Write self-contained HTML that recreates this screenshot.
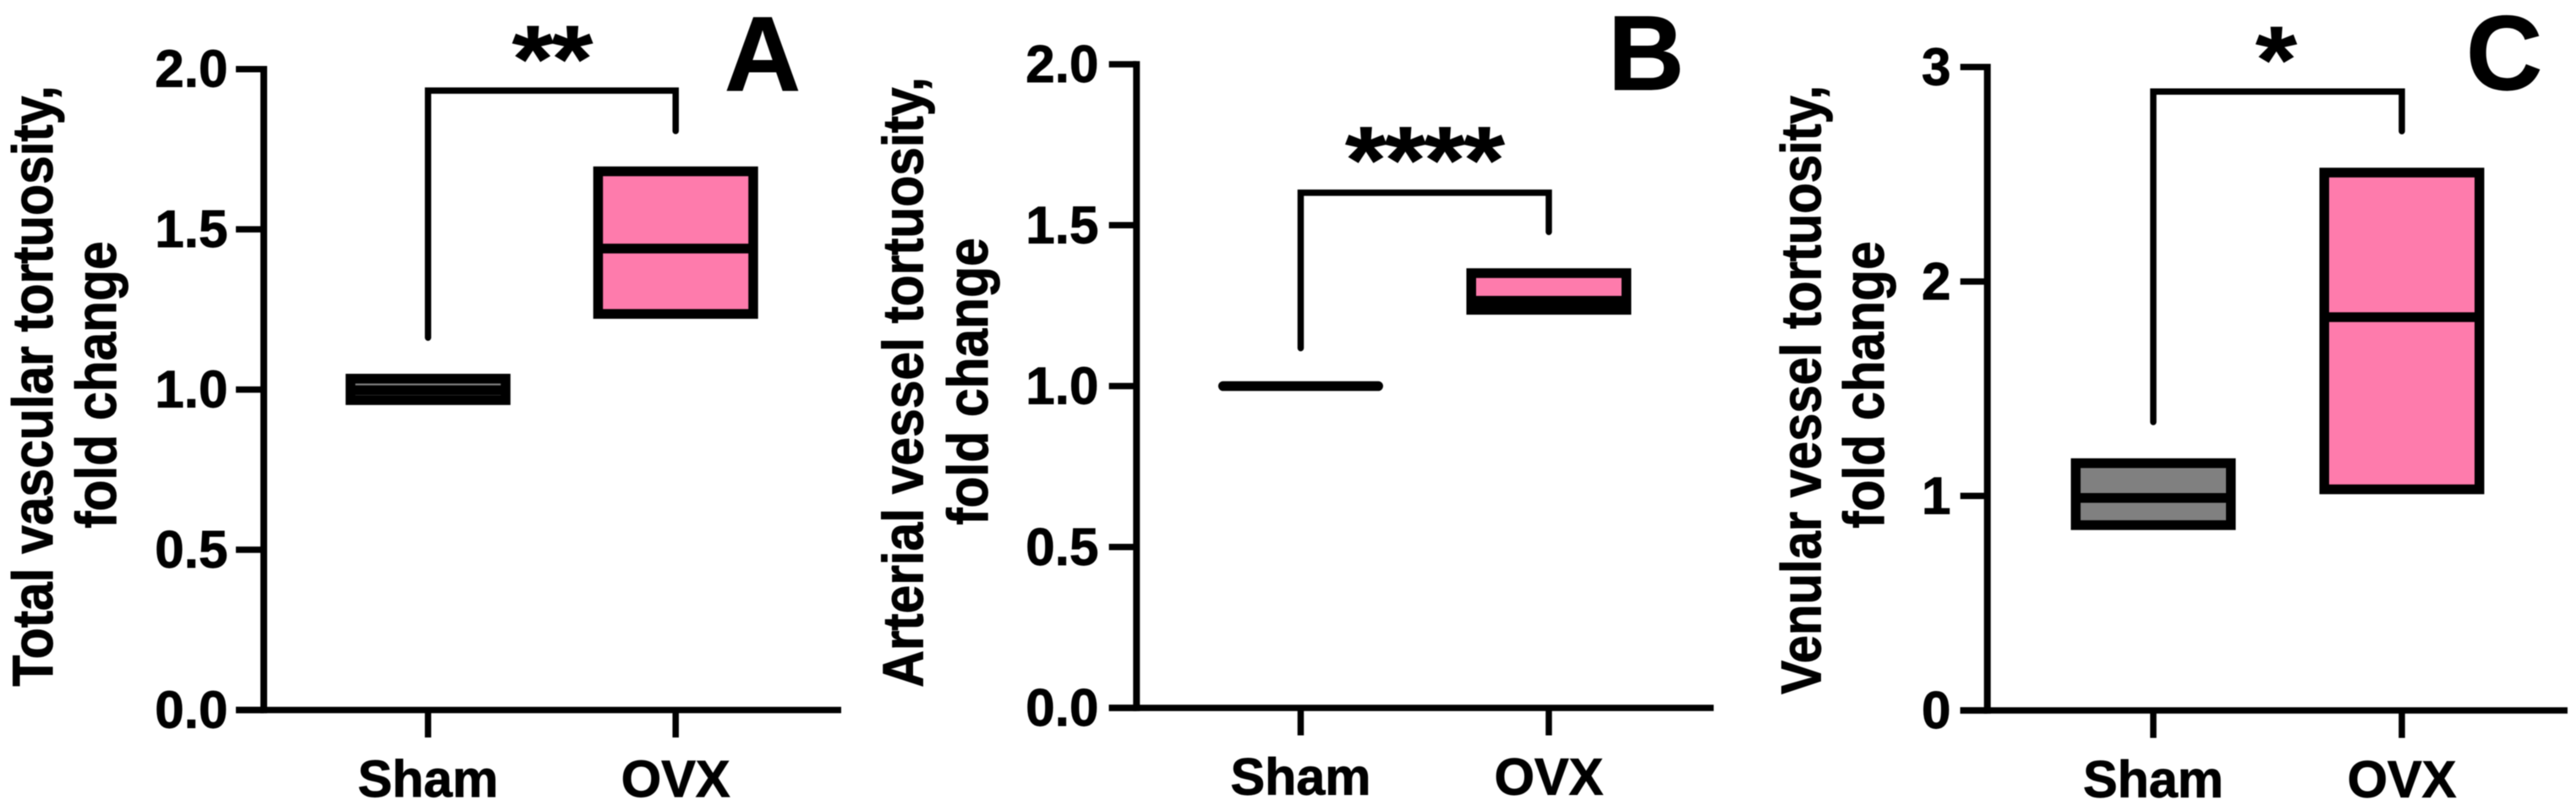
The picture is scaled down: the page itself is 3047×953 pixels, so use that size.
<!DOCTYPE html>
<html lang="en">
<head>
<meta charset="utf-8">
<title>Vessel tortuosity, Sham vs OVX</title>
<style>
html,body{margin:0;padding:0;background:#fff;width:3047px;height:953px;overflow:hidden}
svg{display:block;filter:blur(0.5px)}
text{font-family:"Liberation Sans",Arial,sans-serif;font-weight:700;fill:#000;stroke:#000;stroke-width:0.9px}
</style>
</head>
<body>
<svg id="figure" xmlns="http://www.w3.org/2000/svg" width="3047" height="953" viewBox="0 0 3047 953">
  <rect x="0" y="0" width="3047" height="953" fill="#fff"/>
  <g id="panel-a">
    <text transform="translate(62,456.5) rotate(-90) scale(1,1.12)" font-size="60.5" text-anchor="middle">Total vascular tortuosity,</text>
    <text transform="translate(137,455) rotate(-90) scale(1,1.12)" font-size="60.5" text-anchor="middle">fold change</text>
    <text x="857" y="107" font-size="125" textLength="90" lengthAdjust="spacingAndGlyphs">A</text>
  </g>
  <g id="panel-b">
    <text transform="translate(1091.5,452) rotate(-90) scale(1,1.12)" font-size="60.5" text-anchor="middle">Arterial vessel tortuosity,</text>
    <text transform="translate(1168,451) rotate(-90) scale(1,1.12)" font-size="60.5" text-anchor="middle">fold change</text>
    <text x="1902" y="106" font-size="125">B</text>
  </g>
  <g id="panel-c">
    <text transform="translate(2153.6,461) rotate(-90) scale(1,1.12)" font-size="59.8" text-anchor="middle">Venular vessel tortuosity,</text>
    <text transform="translate(2228,455) rotate(-90) scale(1,1.12)" font-size="60.5" text-anchor="middle">fold change</text>
    <text x="2917" y="106" font-size="125">C</text>
  </g>
</svg>
<script>
// ---- data ----
const categories = ['Sham', 'OVX'];

const panelATicks = [0, 0.5, 1, 1.5, 2];
const panelATickLabels = ['0.0', '0.5', '1.0', '1.5', '2.0'];
const panelAQ1 = [0.967, 1.236];
const panelAMedian = [0.998, 1.44];
const panelAQ3 = [1.034, 1.681];
const panelABracket = [1.162, 1.933, 1.807];
const panelAStars = '**';

const panelBTicks = [0, 0.5, 1, 1.5, 2];
const panelBTickLabels = ['0.0', '0.5', '1.0', '1.5', '2.0'];
const panelBQ1 = [1.0, 1.237];
const panelBMedian = [1.0, 1.265];
const panelBQ3 = [1.0, 1.351];
const panelBBracket = [1.118, 1.601, 1.479];
const panelBStars = '****';

const panelCTicks = [0, 1, 2, 3];
const panelCTickLabels = ['0', '1', '2', '3'];
const panelCQ1 = [0.864, 1.031];
const panelCMedian = [0.991, 1.834];
const panelCQ3 = [1.153, 2.508];
const panelCBracket = [1.345, 2.886, 2.701];
const panelCStars = '*';

const boxFills = ['#808080', '#fe7bac'];

// ---- drawing ----
const SVGNS = 'http://www.w3.org/2000/svg';

function make(tag, attrs, parent) {
  const node = document.createElementNS(SVGNS, tag);
  for (const k in attrs) node.setAttribute(k, attrs[k]);
  parent.appendChild(node);
  return node;
}

function drawPanel(p) {
  const parent = document.getElementById(p.id);
  const maxV = p.ticks[p.ticks.length - 1];
  const yScale = v => p.bottom - (v / maxV) * (p.bottom - p.top);
  const xScale = i => p.xPos[i];

  // boxes
  categories.forEach((cat, i) => {
    const cx = xScale(i);
    const yQ3 = yScale(p.q3[i]);
    const yQ1 = yScale(p.q1[i]);
    const yMed = yScale(p.median[i]);
    const flat = Math.abs(p.q3[i] - p.q1[i]) < 0.005;
    const box = make('rect', {
      x: cx - p.boxHalf, y: yQ3, width: p.boxHalf * 2, height: yQ1 - yQ3,
      fill: boxFills[i], stroke: '#000', 'stroke-width': 11.5,
      'stroke-linejoin': flat ? 'round' : 'miter'
    }, parent);
    
    
    const med = make('line', {
      x1: cx - p.boxHalf, x2: cx + p.boxHalf, y1: yMed, y2: yMed,
      stroke: '#000', 'stroke-width': 11.5, 'stroke-linecap': flat ? 'round' : 'butt'
    }, parent);
    
    
  });

  // axes
  const yAxis = make('line', {
    x1: p.axisX, x2: p.axisX, y1: yScale(maxV) - 3.75, y2: p.bottom + 3.75,
    stroke: '#000', 'stroke-width': 8
  }, parent);
  
  
  const xAxis = make('line', {
    x1: p.tickLeft, x2: p.axisRight, y1: p.bottom, y2: p.bottom,
    stroke: '#000', 'stroke-width': 7.5
  }, parent);
  
  

  // y ticks
  p.ticks.forEach((t, i) => {
    const y = yScale(t);
    const tick = make('line', {
      x1: p.tickLeft, x2: p.axisX, y1: y, y2: y, stroke: '#000', 'stroke-width': 7.5
    }, parent);
    
    
    const label = make('text', {
      x: p.labelRight, y: y + 21, 'font-size': 62, 'text-anchor': 'end'
    }, parent);
    label.textContent = p.tickLabels[i];
    
    
  });

  // x ticks and labels
  categories.forEach((cat, i) => {
    const x = xScale(i);
    const tick = make('line', {
      x1: x, x2: x, y1: p.bottom, y2: p.bottom + 32.5, stroke: '#000', 'stroke-width': 7.5
    }, parent);
    
    
    const label = make('text', {
      x: x, y: p.bottom + 102.5, 'font-size': 61, 'text-anchor': 'middle'
    }, parent);
    label.textContent = cat;
    
    
  });

  // significance bracket: [left end, top, right end]
  const b = p.bracket;
  const x0 = xScale(0);
  const x1 = xScale(1);
  const path = make('path', {
    d: 'M' + x0 + ' ' + yScale(b[0]) + 'V' + yScale(b[1]) + 'H' + x1 + 'V' + yScale(b[2]),
    fill: 'none', stroke: '#000', 'stroke-width': 7.5,
    'stroke-linecap': 'round', 'stroke-linejoin': 'miter'
  }, parent);
  
  

  const stars = make('text', {
    transform: 'translate(' + p.starsX + ',' + (yScale(b[1]) - p.starsGap) + ') scale(1,0.9)',
    'font-size': 125, 'text-anchor': 'middle', 'letter-spacing': -2
  }, parent);
  stars.textContent = p.stars;
  
  
}

drawPanel({
  id: 'panel-a', ticks: panelATicks, tickLabels: panelATickLabels,
  q1: panelAQ1, median: panelAMedian, q3: panelAQ3, bracket: panelABracket, stars: panelAStars,
  top: 81.7, bottom: 839.5, axisX: 312, tickLeft: 279, axisRight: 995,
  xPos: [506.3, 799.2], boxHalf: 91.75, labelRight: 269.5, starsX: 652.5, starsGap: -1.3
});
drawPanel({
  id: 'panel-b', ticks: panelBTicks, tickLabels: panelBTickLabels,
  q1: panelBQ1, median: panelBMedian, q3: panelBQ3, bracket: panelBBracket, stars: panelBStars,
  top: 76, bottom: 837, axisX: 1344.3, tickLeft: 1311.7, axisRight: 2027,
  xPos: [1538.5, 1832], boxHalf: 91.75, labelRight: 1299.5, starsX: 1684.5, starsGap: 0
});
drawPanel({
  id: 'panel-c', ticks: panelCTicks, tickLabels: panelCTickLabels,
  q1: panelCQ1, median: panelCMedian, q3: panelCQ3, bracket: panelCBracket, stars: panelCStars,
  top: 79.3, bottom: 840, axisX: 2350.7, tickLeft: 2318.7, axisRight: 3037,
  xPos: [2547, 2841], boxHalf: 91.75, labelRight: 2307.5, starsX: 2691.5, starsGap: -1.3
});
</script>
</body>
</html>
